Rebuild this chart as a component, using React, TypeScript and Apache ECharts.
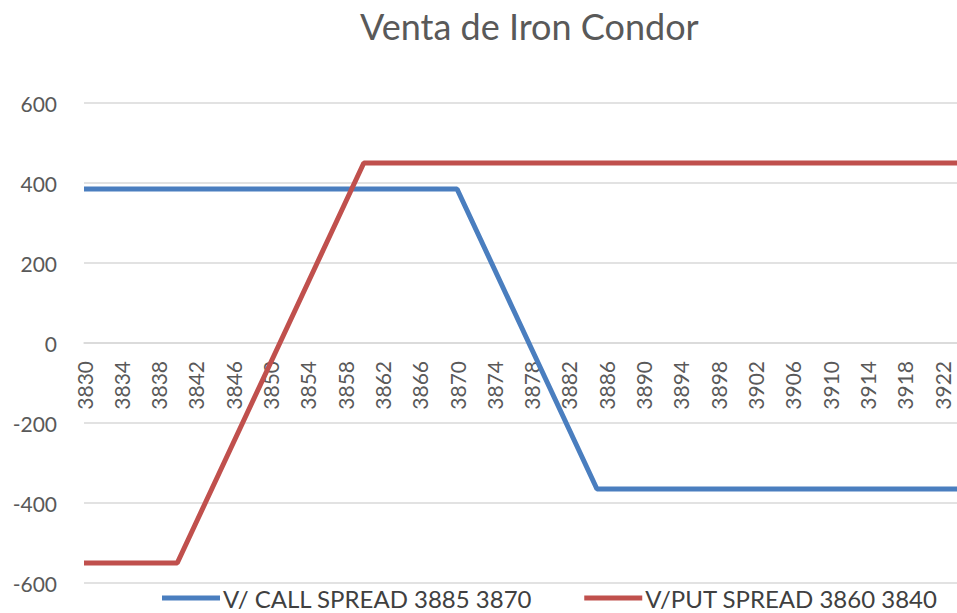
import React, { useEffect, useRef } from "react";
import * as echarts from "echarts";

const strikes: string[] = [
  "3830","3831","3832","3833","3834","3835","3836","3837","3838","3839",
  "3840","3841","3842","3843","3844","3845","3846","3847","3848","3849",
  "3850","3851","3852","3853","3854","3855","3856","3857","3858","3859",
  "3860","3861","3862","3863","3864","3865","3866","3867","3868","3869",
  "3870","3871","3872","3873","3874","3875","3876","3877","3878","3879",
  "3880","3881","3882","3883","3884","3885","3886","3887","3888","3889",
  "3890","3891","3892","3893","3894","3895","3896","3897","3898","3899",
  "3900","3901","3902","3903","3904","3905","3906","3907","3908","3909",
  "3910","3911","3912","3913","3914","3915","3916","3917","3918","3919",
  "3920","3921","3922","3923","3924","3925",
];

const callSpread: number[] = [
  385,385,385,385,385,385,385,385,385,385,
  385,385,385,385,385,385,385,385,385,385,
  385,385,385,385,385,385,385,385,385,385,
  385,385,385,385,385,385,385,385,385,385,
  385,335,285,235,185,135,85,35,-15,-65,
  -115,-165,-215,-265,-315,-365,-365,-365,-365,-365,
  -365,-365,-365,-365,-365,-365,-365,-365,-365,-365,
  -365,-365,-365,-365,-365,-365,-365,-365,-365,-365,
  -365,-365,-365,-365,-365,-365,-365,-365,-365,-365,
  -365,-365,-365,-365,-365,-365,
];

const putSpread: number[] = [
  -550,-550,-550,-550,-550,-550,-550,-550,-550,-550,
  -550,-500,-450,-400,-350,-300,-250,-200,-150,-100,
  -50,0,50,100,150,200,250,300,350,400,
  450,450,450,450,450,450,450,450,450,450,
  450,450,450,450,450,450,450,450,450,450,
  450,450,450,450,450,450,450,450,450,450,
  450,450,450,450,450,450,450,450,450,450,
  450,450,450,450,450,450,450,450,450,450,
  450,450,450,450,450,450,450,450,450,450,
  450,450,450,450,450,450,
];

const seriesNames: string[] = ["V/ CALL SPREAD 3885 3870", "V/PUT SPREAD 3860 3840"];
const titleText = "Venta de Iron Condor";

export default function App() {
  const ref = useRef<HTMLDivElement>(null);
  useEffect(() => {
    if (!ref.current) return;
    const chart = echarts.init(ref.current, null, { renderer: "svg" });
    const font = "Lato";
    chart.setOption({
      animation: false,
      backgroundColor: "#ffffff",
      title: {
        text: titleText,
        left: 355,
        top: 3,
        textStyle: { fontFamily: font, fontSize: 36, fontWeight: "normal", color: "#595959" },
      },
      legend: {
        left: 157,
        top: 581,
        itemWidth: 58,
        itemHeight: 5,
        itemGap: 52,
        icon: "rect",
        textStyle: { fontFamily: font, fontSize: 24, color: "#404040", padding: [0, 0, 0, -2] },
        data: seriesNames,
      },
      grid: {
        left: 84,
        top: 103,
        height: 480,
        width: 886,
        containLabel: false,
        outerBoundsMode: "none",
      },
      xAxis: {
        type: "category",
        data: strikes,
        boundaryGap: false,
        position: "bottom",
        offset: -240,
        axisLine: { onZero: false, lineStyle: { color: "#d9d9d9", width: 1.5 } },
        axisTick: { show: false },
        axisLabel: {
          interval: 3,
          rotate: 90,
          margin: 18,
          fontFamily: font,
          fontSize: 21,
          color: "#595959",
        },
        splitLine: { show: false },
      },
      yAxis: {
        type: "value",
        min: -600,
        max: 600,
        interval: 200,
        axisLine: { show: false },
        axisTick: { show: false },
        axisLabel: { margin: 27, fontFamily: font, fontSize: 21, color: "#595959" },
        splitLine: { lineStyle: { color: "#d9d9d9", width: 1.5 } },
      },
      series: [
        {
          name: seriesNames[0],
          type: "line",
          data: callSpread,
          symbol: "none",
          itemStyle: { color: "#4a7ebf" },
          lineStyle: { color: "#4a7ebf", width: 5 },
        },
        {
          name: seriesNames[1],
          type: "line",
          data: putSpread,
          symbol: "none",
          itemStyle: { color: "#c0504d" },
          lineStyle: { color: "#c0504d", width: 5 },
        },
      ],
    });
    return () => chart.dispose();
  }, []);
  return (
    <div
      ref={ref}
      style={{ position: "fixed", left: 0, top: 0, width: 957, height: 613, overflow: "hidden", background: "#fff" }}
    />
  );
}
